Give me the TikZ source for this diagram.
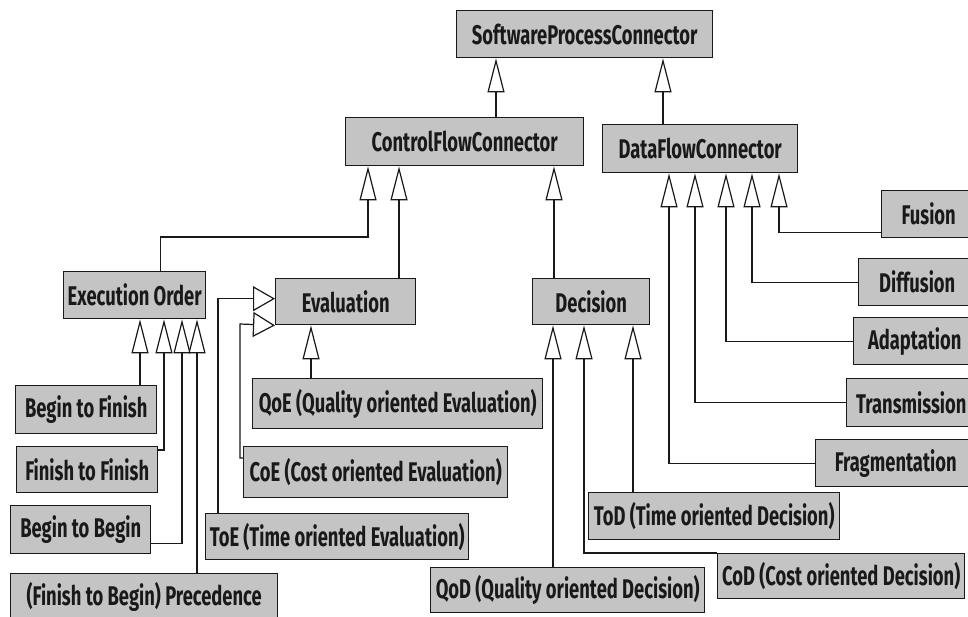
\documentclass[tikz,border=0pt]{standalone}
\usepackage{fontspec}
\setmainfont{Fira Sans}[FakeStretch=0.68]
\usetikzlibrary{arrows.meta}
\definecolor{boxfill}{RGB}{196,196,196}
\definecolor{ink}{RGB}{25,25,25}
\begin{document}
\begin{tikzpicture}[x=1pt,y=-1pt,
  box/.style={draw=ink, line width=1.4pt, fill=boxfill, inner sep=0pt, anchor=north west,
    text=ink, font=\fontsize{27}{27}\selectfont\bfseries},
  inh/.style={draw=ink, line width=1.2pt, -{Triangle[open,length=34pt,width=17pt,fill=white]}},
  inhs/.style={draw=ink, line width=1.2pt, -{Triangle[open,length=22pt,width=25pt,fill=white]}}]
\useasboundingbox (0,0) rectangle (968,617);
\clip (0,0) rectangle (968,617);
\fill[white] (0,0) rectangle (968,617);
% boxes
\node[box, minimum width=256pt, minimum height=47pt] (spc) at (456,10) {SoftwareProcessConnector};
\node[box, minimum width=238pt, minimum height=48pt] (cfc) at (345,117) {ControlFlowConnector};
\node[box, minimum width=195pt, minimum height=48pt] (dfc) at (602,124) {DataFlowConnector};
\node[box, minimum width=142pt, minimum height=47pt] (eo) at (63,271) {Execution Order};
\node[box, minimum width=140pt, minimum height=46pt] (ev) at (275,278) {Evaluation};
\node[box, minimum width=117pt, minimum height=46pt] (dec) at (532,278) {Decision};
\node[box, minimum width=141pt, minimum height=48pt] (btf) at (15,385) {Begin to Finish};
\node[box, minimum width=141pt, minimum height=46pt] (ftf) at (16,446) {Finish to Finish};
\node[box, minimum width=140pt, minimum height=48pt] (btb) at (10,505) {Begin to Begin};
\node[box, minimum width=267pt, minimum height=46pt] (prec) at (10,573) {(Finish to Begin) Precedence};
\node[box, minimum width=290pt, minimum height=50pt] (qoe) at (252,378) {QoE (Quality oriented Evaluation)};
\node[box, minimum width=264pt, minimum height=51pt] (coe) at (243,446) {CoE (Cost oriented Evaluation)};
\node[box, minimum width=263pt, minimum height=46pt] (toe) at (205,513) {ToE (Time oriented Evaluation)};
\node[box, minimum width=274pt, minimum height=45pt] (qod) at (430,567) {QoD (Quality oriented Decision)};
\node[box, minimum width=251pt, minimum height=47pt] (tod) at (588,492) {ToD (Time oriented Decision)};
\node[box, minimum width=247pt, minimum height=45pt] (cod) at (717,553) {CoD (Cost oriented Decision)};
\node[box, minimum width=94pt, minimum height=47pt] (fus) at (881,190) {Fusion};
\node[box, minimum width=117pt, minimum height=47pt] (dif) at (858,258) {Diffusion};
\node[box, minimum width=122pt, minimum height=47pt] (ada) at (853,317) {Adaptation};
\node[box, minimum width=129pt, minimum height=48pt] (tra) at (846,378) {Transmission};
\node[box, minimum width=160pt, minimum height=47pt] (fra) at (815,439) {Fragmentation};
% guide coordinates
\coordinate (xa) at (496,0);
\coordinate (xb) at (663,0);
\coordinate (g1) at (368,237);
\coordinate (xc) at (399,0);
\coordinate (xd) at (554,0);
\coordinate (xe) at (140,0);
\coordinate (xf) at (164,0);
\coordinate (xg) at (182,0);
\coordinate (xh) at (197,0);
\coordinate (xi) at (311,0);
\coordinate (g2) at (240,324);
\coordinate (xj) at (553,0);
\coordinate (xk) at (584,0);
\coordinate (xl) at (633,0);
\coordinate (xm) at (779,0);
\coordinate (xn) at (752,0);
\coordinate (xo) at (726,0);
\coordinate (xp) at (695,0);
\coordinate (xq) at (669,0);
% connectors
\draw[inh] (cfc.north -| xa) -- (spc.south -| xa);
\draw[inh] (dfc.north -| xb) -- (spc.south -| xb);
\draw[inh] ([xshift=26pt]eo.north) |- (g1) -- (g1 |- cfc.south);
\draw[inh] (ev.north -| xc) -- (cfc.south -| xc);
\draw[inh] (dec.north -| xd) -- (cfc.south -| xd);
\draw[inh] (btf.north -| xe) -- (eo.south -| xe);
\draw[inh] ([yshift=-4pt]ftf.north east) -| (eo.south -| xf);
\draw[inh] ([yshift=11pt]btb.south east) -| (eo.south -| xg);
\draw[inh] (prec.north -| xh) -- (eo.south -| xh);
\draw[inh] (qoe.north -| xi) -- (ev.south -| xi);
\draw[inhs] ([xshift=13pt]toe.north west) |- ([yshift=3pt]ev.west);
\draw[inhs] ([yshift=-12pt]coe.north west) -| (g2) -- (ev.south west);
\draw[inh] (qod.north -| xj) -- (dec.south -| xj);
\draw[inh] (cod.north west) -| (dec.south -| xk);
\draw[inh] (tod.north -| xl) -- (dec.south -| xl);
\draw[inh] ([yshift=6pt]fus.south west) -| (dfc.south -| xm);
\draw[inh] (dif.west) -| (dfc.south -| xn);
\draw[inh] (ada.west) -| (dfc.south -| xo);
\draw[inh] (tra.west) -| (dfc.south -| xp);
\draw[inh] (fra.west) -| (dfc.south -| xq);
\end{tikzpicture}
\end{document}
